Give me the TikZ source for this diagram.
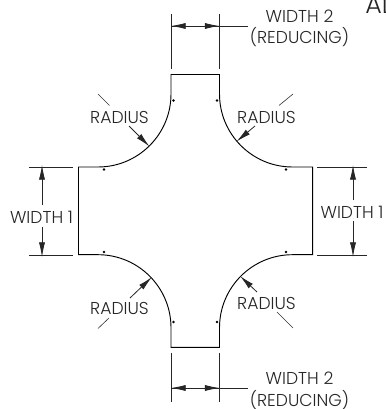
\documentclass[tikz,border=0pt]{standalone}
\usepackage{fontspec}
\setmainfont{Poppins Light}
\usetikzlibrary{arrows.meta}
\tikzset{
  outline/.style={line width=0.7pt,black},
  dimline/.style={line width=0.6pt,black!85},
  tick/.style={line width=0.45pt,black!80},
  tip/.style={-{Latex[length=11pt,width=4.6pt]}},
  label/.style={inner sep=0pt,font=\fontsize{12.9pt}{14pt}\selectfont,text=black!85,align=center},
  dot/.style={circle,fill=black,inner sep=0pt,minimum size=2.2pt}
}
\begin{document}
\begin{tikzpicture}[x=0.75pt,y=-0.75pt]
\useasboundingbox (0,0) rectangle (385,409);
% outline
\draw[outline,line join=miter] (171,74.5) -- (219.5,74.5) -- (219.5,94)
  .. controls (219.5,134.3) and (252.2,167) .. (292.5,167) -- (312.7,167)
  -- (312.7,254.7) -- (292.5,254.7)
  .. controls (252.2,254.7) and (219.5,287.4) .. (219.5,327.7) -- (219.5,347.3)
  -- (171,347.3) -- (171,327.7)
  .. controls (171,287.4) and (138.3,254.7) .. (98,254.7) -- (78.5,254.7)
  -- (78.5,167) -- (98,167)
  .. controls (138.3,167) and (171,134.3) .. (171,94) -- cycle;
% centre marks
\foreach \p/\q in {173.5/100.5,217/100.5,104/169.5,286/169.5,173.5/322,217/322,104/252,286/252}
  \node[dot] at (\p,\q) {};
% top width 2
\coordinate (tl1) at (171,14); \coordinate (tl2) at (171,69);
\coordinate (tr1) at (219.5,14); \coordinate (tr2) at (219.5,69);
\coordinate (ta) at (171,26); \coordinate (tb) at (219.5,26); \coordinate (tc) at (248,26);
\draw[dimline] (tl1) -- (tl2);
\draw[dimline] (tr1) -- (tr2);
\draw[dimline,tip] (tb) -- (ta);
\draw[dimline,tip] (ta) -- (tb);
\draw[dimline] (tb) -- (tc);
\node[label] (w2a) at (299.5,16) {WIDTH 2};
\node[label] (w2b) at (299.5,37) {(REDUCING)};
% bottom width 2
\coordinate (bl1) at (171,353); \coordinate (bl2) at (171,402);
\coordinate (br1) at (219.5,353); \coordinate (br2) at (219.5,402);
\coordinate (ba) at (171,388); \coordinate (bb) at (219.5,388); \coordinate (bc) at (248,388);
\draw[dimline] (bl1) -- (bl2);
\draw[dimline] (br1) -- (br2);
\draw[dimline,tip] (bb) -- (ba);
\draw[dimline,tip] (ba) -- (bb);
\draw[dimline] (bb) -- (bc);
\node[label] (w2c) at (299.5,378) {WIDTH 2};
\node[label] (w2d) at (299.5,400) {(REDUCING)};
% left width 1
\coordinate (la1) at (29,167); \coordinate (la2) at (73,167);
\coordinate (lb1) at (29,255); \coordinate (lb2) at (73,255);
\coordinate (lu) at (42,165); \coordinate (ld) at (42,257);
\draw[dimline] (la1) -- (la2);
\draw[dimline] (lb1) -- (lb2);
\node[label] (w1l) at (41.5,217) {WIDTH 1};
\draw[dimline,tip] (42,205) -- (lu);
\draw[dimline,tip] (42,227) -- (ld);
% right width 1
\coordinate (ra1) at (317,167); \coordinate (ra2) at (367,167);
\coordinate (rb1) at (317,255); \coordinate (rb2) at (367,255);
\coordinate (ru) at (353,165); \coordinate (rd) at (353,257);
\draw[dimline] (ra1) -- (ra2);
\draw[dimline] (rb1) -- (rb2);
\node[label] (w1r) at (352,212) {WIDTH 1};
\draw[dimline,tip] (353,200) -- (ru);
\draw[dimline,tip] (353,221) -- (rd);
% radius labels
\node[label] (r1) at (119.5,117) {RADIUS};
\node[label] (r2) at (266.5,117) {RADIUS};
\node[label] (r3) at (119.5,308) {RADIUS};
\node[label] (r4) at (266.5,303) {RADIUS};
% leaders
\draw[dimline,tip] (129,126) -- (149.5,146.5);
\draw[dimline,tip] (255,126) -- (236.5,141.5);
\draw[dimline,tip] (130,298) -- (152,277);
\draw[dimline,tip] (257,292) -- (240,276);
\draw[tick] (98,94) -- (109.5,105.5);
\draw[tick] (293,94) -- (279,105.5);
\draw[tick] (98,328.5) -- (109,318);
\draw[tick] (293,328) -- (277,312);
% clipped fragment at the top right
\node[label,anchor=base west,font=\fontsize{19pt}{20pt}\selectfont] (al) at (365,14) {AL};
\end{tikzpicture}
\end{document}
